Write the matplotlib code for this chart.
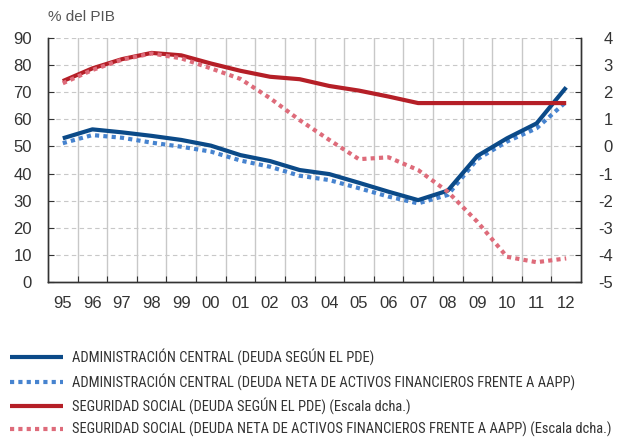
import matplotlib
matplotlib.use("Agg")
import matplotlib.pyplot as plt
from matplotlib.lines import Line2D
from matplotlib import font_manager
import numpy as np

years = ["95", "96", "97", "98", "99", "00", "01", "02", "03", "04", "05",
         "06", "07", "08", "09", "10", "11", "12"]
ac_pde = [53.0, 56.3, 55.2, 53.9, 52.4, 50.3, 46.8, 44.6, 41.3, 39.8, 36.6,
          33.3, 30.2, 33.7, 46.5, 53.0, 58.5, 71.8]
ac_neta = [51.2, 54.2, 53.2, 51.4, 49.9, 48.1, 44.8, 42.5, 39.2, 37.6, 34.6,
           31.5, 29.0, 32.1, 45.3, 51.8, 56.7, 66.5]
ss_pde = [2.41, 2.88, 3.22, 3.45, 3.36, 3.06, 2.79, 2.57, 2.48, 2.23, 2.06,
          1.84, 1.60, 1.60, 1.60, 1.60, 1.60, 1.60]
ss_neta = [2.33, 2.82, 3.20, 3.43, 3.25, 2.88, 2.49, 1.78, 0.97, 0.24, -0.47,
           -0.40, -0.87, -1.67, -2.78, -4.07, -4.27, -4.13]
labels = [
    "ADMINISTRACIÓN CENTRAL (DEUDA SEGÚN EL PDE)",
    "ADMINISTRACIÓN CENTRAL (DEUDA NETA DE ACTIVOS FINANCIEROS FRENTE A AAPP)",
    "SEGURIDAD SOCIAL (DEUDA SEGÚN EL PDE) (Escala dcha.)",
    "SEGURIDAD SOCIAL (DEUDA NETA DE ACTIVOS FINANCIEROS FRENTE A AAPP) (Escala dcha.)",
]
left_ticks = list(range(0, 91, 10))
right_ticks = list(range(-5, 5))

c_blue = "#0b4a88"
c_lblue = "#4683cf"
c_red = "#b51f27"
c_pink = "#de6b7a"
txt = "#333333"

plt.rcParams['font.family'] = ['Liberation Sans', 'DejaVu Sans']
plt.rcParams['axes.unicode_minus'] = False

names = {f.name for f in font_manager.fontManager.ttflist}
cond = None
for cand in ["Liberation Sans Narrow", "DejaVu Sans Condensed", "Roboto Condensed",
             "Open Sans Condensed", "Arial Narrow"]:
    if cand in names:
        cond = cand
        break
cond_stretch = [f for f in font_manager.fontManager.ttflist
                if f.name == "DejaVu Sans" and f.stretch in ("condensed", "semi-condensed")]

W, H = 618, 438
fig = plt.figure(figsize=(W / 100, H / 100), dpi=100)
ax = fig.add_axes([48 / W, 1 - 282 / H, (581 - 48) / W, (282 - 38) / H])
ax2 = ax.twinx()

x = np.arange(len(years))
n = len(years)
ax.set_xlim(-0.5, n - 0.5)
ax.set_ylim(0, 90)
ax2.set_ylim(-5, 4)

for v in left_ticks[1:]:
    ax.axhline(v, color="#c8c8c8", lw=0.8, ls=(0, (4, 3)), zorder=0)
for b in np.arange(0.5, n - 0.5, 1):
    ax.axvline(b, color="#c8c8c8", lw=1.0, zorder=0)

dot = (0, (1, 1))
ax.plot(x, ac_neta, color=c_lblue, lw=3.0, ls=dot, dash_capstyle="butt", zorder=3)
ax.plot(x, ac_pde, color=c_blue, lw=3.0, solid_capstyle="butt", zorder=4)
ax2.plot(x, ss_pde, color=c_red, lw=3.0, solid_capstyle="butt", zorder=3)
ax2.plot(x, ss_neta, color=c_pink, lw=3.0, ls=dot, dash_capstyle="butt", zorder=4)

ax.set_xticks(np.arange(0.5, n - 0.5, 1))
ax.set_xticklabels([])
ax.set_xticks(x, minor=True)
ax.set_xticklabels(years, minor=True)
ax.tick_params(axis="x", which="major", direction="in", length=4, color=txt)
ax.tick_params(axis="x", which="minor", length=0, pad=10, labelsize=12, labelcolor=txt)
ax.set_yticks(left_ticks)
ax.tick_params(axis="y", direction="in", length=4, pad=11.5, labelsize=12,
               labelcolor=txt, color=txt)
ax2.set_yticks(right_ticks)
ax2.tick_params(axis="y", direction="in", length=4, pad=23, labelsize=12,
                labelcolor=txt, color=txt)
for t in ax2.get_yticklabels():
    t.set_horizontalalignment("right")

for a in (ax, ax2):
    a.spines["top"].set_visible(False)
    for s in ("left", "right", "bottom"):
        a.spines[s].set_color(txt)
        a.spines[s].set_linewidth(1.0)

fig.text(48 / W, 1 - 17 / H, "% del PIB", fontsize=11, color="#555555",
         va="center", ha="left")

leg_y = [357, 382, 406, 429]
styles = [(c_blue, "-"), (c_lblue, dot), (c_red, "-"), (c_pink, dot)]
leg_texts = []
for yy, (c, ls), lab in zip(leg_y, styles, labels):
    fy = 1 - yy / H
    fig.add_artist(Line2D([10 / W, 63 / W], [fy, fy], transform=fig.transFigure,
                          color=c, lw=3.0, ls=ls, dash_capstyle="butt",
                          solid_capstyle="butt"))
    kw = dict(fontsize=9.5, color=txt, va="center", ha="left")
    if cond is not None:
        t = fig.text(72 / W, fy, lab, family=[cond, "DejaVu Sans"], **kw)
    elif cond_stretch:
        t = fig.text(72 / W, fy, lab, family=["DejaVu Sans"], fontstretch="condensed", **kw)
    else:
        t = fig.text(72 / W, fy, lab, family=["Liberation Sans", "DejaVu Sans"], **kw)
    leg_texts.append(t)

# fit the longest legend line to the width used in the reference
fig.canvas.draw()
r = fig.canvas.get_renderer()
maxw = max(t.get_window_extent(r).x1 for t in leg_texts)
scale = (614 - 72) / (maxw - 72)
scale = min(scale, 1.15)
for t in leg_texts:
    t.set_fontsize(t.get_fontsize() * scale)

fig.savefig("out.png", dpi=100)
